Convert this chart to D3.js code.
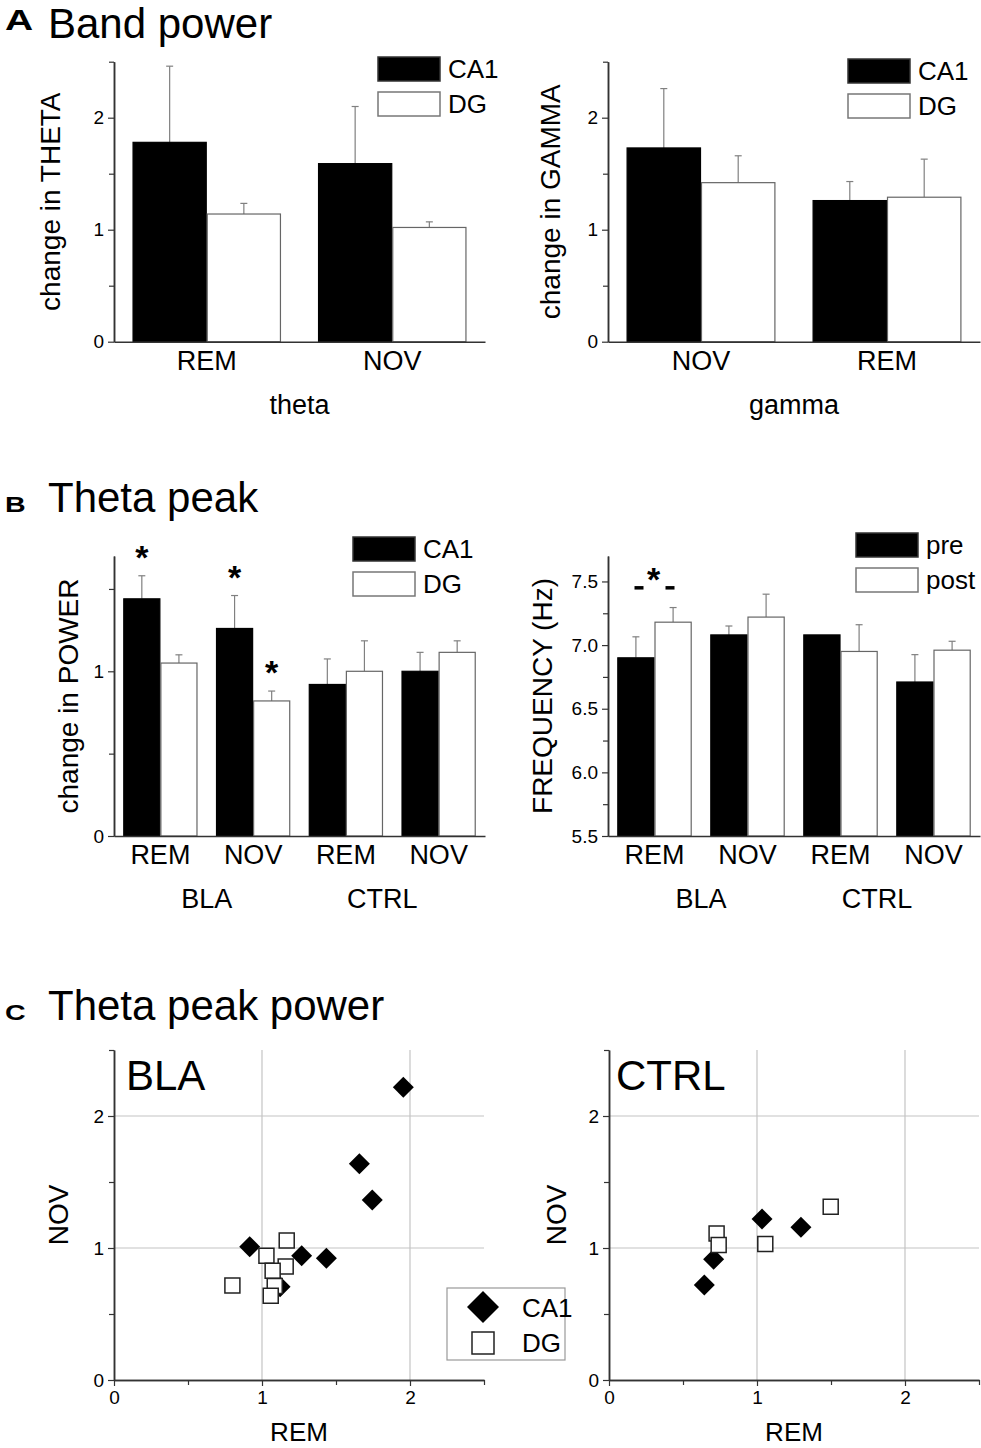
<!DOCTYPE html>
<html>
<head>
<meta charset="utf-8">
<script src="https://cdn.jsdelivr.net/npm/d3@7"></script>
<style>
body { margin: 0; background: #fff; }
svg text { font-family: "Liberation Sans", Arial, sans-serif; fill: #000; }
</style>
</head>
<body>
<svg id="fig" width="981" height="1448"></svg>
<script>

// ---- data ----

// A: band power
var thetaCats = ["REM", "NOV"];
var thetaCA1 = [1.78, 1.59];
var thetaCA1Err = [0.68, 0.51];
var thetaDG = [1.14, 1.02];
var thetaDGErr = [0.095, 0.05];

var gammaCats = ["NOV", "REM"];
var gammaCA1 = [1.73, 1.26];
var gammaCA1Err = [0.53, 0.17];
var gammaDG = [1.42, 1.29];
var gammaDGErr = [0.24, 0.34];

// B: theta peak
var peakCats = ["REM", "NOV", "REM", "NOV"];
var peakGroups = ["BLA", "CTRL"];
var powerCA1 = [1.44, 1.26, 0.92, 1.00];
var powerCA1Err = [0.14, 0.20, 0.155, 0.115];
var powerDG = [1.05, 0.82, 1.00, 1.115];
var powerDGErr = [0.05, 0.06, 0.185, 0.07];
var freqPre = [6.90, 7.08, 7.08, 6.71];
var freqPreErr = [0.165, 0.07, 0.0, 0.215];
var freqPost = [7.18, 7.22, 6.95, 6.96];
var freqPostErr = [0.115, 0.18, 0.21, 0.07];

// C: theta peak power, REM (x) vs NOV (y)
var blaCA1Rem = [1.955, 1.658, 1.745, 0.917, 1.268, 1.435, 1.122];
var blaCA1Nov = [2.217, 1.639, 1.364, 1.01, 0.942, 0.922, 0.707];
var blaDGRem = [0.80, 1.167, 1.03, 1.16, 1.072, 1.086, 1.059];
var blaDGNov = [0.715, 1.056, 0.942, 0.859, 0.828, 0.712, 0.639];
var ctrlCA1Rem = [0.644, 0.707, 1.034, 1.297];
var ctrlCA1Nov = [0.72, 0.914, 1.22, 1.157];
var ctrlDGRem = [0.727, 0.741, 1.056, 1.498];
var ctrlDGNov = [1.109, 1.023, 1.03, 1.313];

var AXIS = "#333";
var ERR = "#808080";
var svg = d3.select("#fig");

/**
 * panel heading: small bold letter + title
 */
function heading(letter, title, y, letterY) {
	svg.append("text")
		.attr("transform", "translate(5," + letterY + ") scale(1.3,1)")
		.style("font-size", (letter == "A" ? 30 : 22) + "px")
		.attr("font-weight", "bold")
		.text(letter);
	svg.append("text")
		.attr("x", 48).attr("y", y)
		.style("font-size", "42px")
		.text(title);
}

function yTitle(text, x, y) {
	svg.append("text")
		.attr("transform", "translate(" + x + "," + y + ") rotate(-90)")
		.attr("text-anchor", "middle")
		.style("font-size", "28px")
		.text(text);
}

function styleAxis(sel, size) {
	sel.attr("font-size", null).attr("font-family", null);
	sel.select(".domain").attr("stroke", AXIS).attr("stroke-width", 1.5);
	sel.selectAll(".tick line").attr("stroke", AXIS).attr("stroke-width", 1.2);
	sel.selectAll(".tick text").attr("fill", "#000").style("font-size", (size || 19) + "px");
}

/**
 * grouped bar chart with upper error bars
 */
function barChart(cfg) {

	var g = svg.append("g");

	var x0 = d3.scaleBand()
		.domain(d3.range(cfg.cats.length))
		.range([cfg.left, cfg.right])
		.paddingInner(0.2)
		.paddingOuter(0.1);

	var x1 = d3.scaleBand()
		.domain(d3.range(cfg.series.length))
		.range([0, x0.bandwidth()]);

	var y = d3.scaleLinear()
		.domain(cfg.domain)
		.range([cfg.bottom, cfg.top]);

	var base = y(cfg.domain[0]);

	cfg.series.forEach(function(s, si) {

		var rows = s.values.map(function(v, i) { return { i: i, v: v, e: s.err[i] }; });

		// error bars (upper half only)
		var eb = g.selectAll(null).data(rows.filter(function(d) { return d.e > 0; }))
			.enter().append("g")
			.attr("stroke", ERR)
			.attr("stroke-width", 1.2);
		eb.append("line")
			.attr("x1", function(d) { return x0(d.i) + x1(si) + x1.bandwidth() / 2; })
			.attr("x2", function(d) { return x0(d.i) + x1(si) + x1.bandwidth() / 2; })
			.attr("y1", function(d) { return y(d.v); })
			.attr("y2", function(d) { return y(d.v + d.e); });
		eb.append("line")
			.attr("x1", function(d) { return x0(d.i) + x1(si) + x1.bandwidth() / 2 - 3.5; })
			.attr("x2", function(d) { return x0(d.i) + x1(si) + x1.bandwidth() / 2 + 3.5; })
			.attr("y1", function(d) { return y(d.v + d.e); })
			.attr("y2", function(d) { return y(d.v + d.e); });

		g.selectAll(null).data(rows)
			.enter().append("rect")
			.attr("x", function(d) { return x0(d.i) + x1(si) + 0.5; })
			.attr("width", x1.bandwidth() - 1)
			.attr("y", function(d) { return y(d.v); })
			.attr("height", function(d) { return base - y(d.v); })
			.attr("fill", s.fill)
			.attr("stroke", s.stroke)
			.attr("stroke-width", 1.2);
	});

	// y axis: minor ticks first, then labelled ticks
	var minorAx = g.append("g")
		.attr("transform", "translate(" + cfg.left + ",0)")
		.call(d3.axisLeft(y).tickValues(cfg.minor).tickSize(5).tickSizeOuter(0).tickFormat(""));
	styleAxis(minorAx);

	var yAx = g.append("g")
		.attr("transform", "translate(" + cfg.left + ",0)")
		.call(d3.axisLeft(y).tickValues(cfg.major).tickSize(6).tickSizeOuter(0)
			.tickPadding(4).tickFormat(cfg.fmt));
	styleAxis(yAx, 19);

	// x axis with category names
	var xAx = g.append("g")
		.attr("transform", "translate(0," + base + ")")
		.call(d3.axisBottom(x0).tickSize(0).tickSizeOuter(0).tickPadding(9)
			.tickFormat(function(i) { return cfg.cats[i]; }));
	styleAxis(xAx, 27);

	// group labels under the categories
	var per = cfg.cats.length / cfg.groups.length;
	cfg.groups.forEach(function(name, k) {
		var first = x0(k * per);
		var last = x0(k * per + per - 1) + x0.bandwidth();
		g.append("text")
			.attr("x", (first + last) / 2 + (k > 0 ? cfg.groupShift || 0 : 0))
			.attr("y", base + 72)
			.attr("text-anchor", "middle")
			.style("font-size", "27px")
			.text(name);
	});

	// legend
	cfg.series.forEach(function(s, si) {
		var ly = cfg.legend[1] + si * 35;
		g.append("rect")
			.attr("x", cfg.legend[0]).attr("y", ly)
			.attr("width", 62).attr("height", 24)
			.attr("fill", s.fill)
			.attr("stroke", s.fill == "#000" ? "#333" : "#777")
			.attr("stroke-width", 1.5);
		g.append("text")
			.attr("x", cfg.legend[0] + 70).attr("y", ly + 21)
			.style("font-size", "26px")
			.text(s.name);
	});

	yTitle(cfg.yTitle, cfg.yTitleX, (cfg.top + cfg.bottom) / 2);

	return { g: g, x0: x0, x1: x1, y: y };
}

/**
 * scatter of REM vs NOV change, diamonds = CA1, squares = DG
 */
function scatter(cfg) {

	var g = svg.append("g");

	var x = d3.scaleLinear().domain([0, 2.5]).range([cfg.left, cfg.right]);
	var y = d3.scaleLinear().domain([0, 2.5]).range([cfg.bottom, cfg.top]);

	// grid
	g.selectAll(null).data([1, 2]).enter().append("line")
		.attr("x1", x(0)).attr("x2", x(2.5))
		.attr("y1", function(d) { return y(d); }).attr("y2", function(d) { return y(d); })
		.attr("stroke", "#c4c4c4").attr("stroke-width", 1.2);
	g.selectAll(null).data([1, 2]).enter().append("line")
		.attr("y1", y(0)).attr("y2", y(2.5))
		.attr("x1", function(d) { return x(d); }).attr("x2", function(d) { return x(d); })
		.attr("stroke", "#c4c4c4").attr("stroke-width", 1.2);

	var minorX = g.append("g").attr("transform", "translate(0," + y(0) + ")")
		.call(d3.axisBottom(x).tickValues([0.5, 1.5, 2.5]).tickSize(5).tickSizeOuter(0).tickFormat(""));
	styleAxis(minorX);
	var xAx = g.append("g").attr("transform", "translate(0," + y(0) + ")")
		.call(d3.axisBottom(x).tickValues([0, 1, 2]).tickSize(6).tickSizeOuter(0)
			.tickPadding(5).tickFormat(d3.format("d")));
	styleAxis(xAx, 19);

	var minorY = g.append("g").attr("transform", "translate(" + x(0) + ",0)")
		.call(d3.axisLeft(y).tickValues([0.5, 1.5, 2.5]).tickSize(5).tickSizeOuter(0).tickFormat(""));
	styleAxis(minorY);
	var yAx = g.append("g").attr("transform", "translate(" + x(0) + ",0)")
		.call(d3.axisLeft(y).tickValues([0, 1, 2]).tickSize(6).tickSizeOuter(0)
			.tickPadding(4).tickFormat(d3.format("d")));
	styleAxis(yAx, 19);

	var diamond = d3.symbol().type(d3.symbolSquare).size(220);
	var square = d3.symbol().type(d3.symbolSquare).size(225);

	g.selectAll(null).data(d3.zip(cfg.ca1Rem, cfg.ca1Nov)).enter().append("path")
		.attr("d", diamond)
		.attr("transform", function(d) { return "translate(" + x(d[0]) + "," + y(d[1]) + ") rotate(45)"; })
		.attr("fill", "#000");

	g.selectAll(null).data(d3.zip(cfg.dgRem, cfg.dgNov)).enter().append("path")
		.attr("d", square)
		.attr("transform", function(d) { return "translate(" + x(d[0]) + "," + y(d[1]) + ")"; })
		.attr("fill", "#fff")
		.attr("stroke", "#222")
		.attr("stroke-width", 1.5);

	g.append("text")
		.attr("x", x(0) + cfg.labelDx).attr("y", y(2.5) + 40)
		.style("font-size", "42px")
		.text(cfg.label);

	g.append("text")
		.attr("x", (cfg.left + cfg.right) / 2).attr("y", 1441)
		.attr("text-anchor", "middle")
		.style("font-size", "26px")
		.text("REM");

	yTitle("NOV", cfg.yTitleX, (cfg.top + cfg.bottom) / 2);

	if (cfg.legend) {
		var lg = g.append("g").attr("transform", "translate(" + cfg.legend[0] + "," + cfg.legend[1] + ")");
		lg.append("rect")
			.attr("width", 118).attr("height", 72)
			.attr("fill", "#fff").attr("stroke", "#999").attr("stroke-width", 1.2);
		lg.append("path")
			.attr("d", d3.symbol().type(d3.symbolSquare).size(512))
			.attr("transform", "translate(36,19) rotate(45)")
			.attr("fill", "#000");
		lg.append("path")
			.attr("d", d3.symbol().type(d3.symbolSquare).size(484))
			.attr("transform", "translate(36,55)")
			.attr("fill", "#fff").attr("stroke", "#222").attr("stroke-width", 1.5);
		lg.append("text").attr("x", 75).attr("y", 29).style("font-size", "26px").text("CA1");
		lg.append("text").attr("x", 75).attr("y", 64).style("font-size", "26px").text("DG");
	}
}

// ---- A ----
heading("A", "Band power", 38, 30);

barChart({
	cats: thetaCats, groups: ["theta"],
	series: [
		{ name: "CA1", values: thetaCA1, err: thetaCA1Err, fill: "#000", stroke: "#000" },
		{ name: "DG", values: thetaDG, err: thetaDGErr, fill: "#fff", stroke: "#666" }
	],
	domain: [0, 2.5], major: [0, 1, 2], minor: [0.5, 1.5, 2.5], fmt: d3.format("d"),
	left: 114, right: 485, top: 61.7, bottom: 341.7,
	legend: [378, 57], yTitle: "change in THETA", yTitleX: 60
});

barChart({
	cats: gammaCats, groups: ["gamma"],
	series: [
		{ name: "CA1", values: gammaCA1, err: gammaCA1Err, fill: "#000", stroke: "#000" },
		{ name: "DG", values: gammaDG, err: gammaDGErr, fill: "#fff", stroke: "#666" }
	],
	domain: [0, 2.5], major: [0, 1, 2], minor: [0.5, 1.5, 2.5], fmt: d3.format("d"),
	left: 608, right: 980, top: 61.7, bottom: 341.7,
	legend: [848, 59], yTitle: "change in GAMMA", yTitleX: 560
});

// ---- B ----
heading("B", "Theta peak", 512, 512);

var power = barChart({
	cats: peakCats, groups: peakGroups, groupShift: -10,
	series: [
		{ name: "CA1", values: powerCA1, err: powerCA1Err, fill: "#000", stroke: "#000" },
		{ name: "DG", values: powerDG, err: powerDGErr, fill: "#fff", stroke: "#666" }
	],
	domain: [0, 1.7], major: [0, 1], minor: [0.5, 1.5], fmt: d3.format("d"),
	left: 114, right: 485, top: 556, bottom: 836,
	legend: [353, 537], yTitle: "change in POWER", yTitleX: 78
});

// significance marks over CA1 REM, CA1 NOV and DG NOV (BLA)
var powerSig = [[0, 0], [1, 0], [1, 1]];
var powerSeries = [[powerCA1, powerCA1Err], [powerDG, powerDGErr]];
power.g.selectAll(null).data(powerSig).enter().append("text")
	.attr("x", function(d) { return power.x0(d[0]) + power.x1(d[1]) + power.x1.bandwidth() / 2; })
	.attr("y", function(d) {
		var s = powerSeries[d[1]];
		return power.y(s[0][d[0]] + s[1][d[0]]) - 7;
	})
	.attr("text-anchor", "middle")
	.style("font-size", "34px")
	.attr("font-weight", "bold")
	.text("*");

var freq = barChart({
	cats: peakCats, groups: peakGroups, groupShift: -10,
	series: [
		{ name: "pre", values: freqPre, err: freqPreErr, fill: "#000", stroke: "#000" },
		{ name: "post", values: freqPost, err: freqPostErr, fill: "#fff", stroke: "#666" }
	],
	domain: [5.5, 7.7], major: [5.5, 6.0, 6.5, 7.0, 7.5], minor: [5.75, 6.25, 6.75, 7.25],
	fmt: d3.format(".1f"),
	left: 608, right: 980, top: 556, bottom: 836,
	legend: [856, 533], yTitle: "FREQUENCY (Hz)", yTitleX: 552
});

// pre vs post in BLA REM: -*-
var sigX = freq.x0(0) + freq.x0.bandwidth() / 2;
var sigY = freq.y(7.45);
freq.g.append("text")
	.attr("x", sigX - 1).attr("y", sigY + 3)
	.attr("text-anchor", "middle")
	.style("font-size", "34px")
	.attr("font-weight", "bold")
	.text("*");
[-1, 1].forEach(function(side) {
	freq.g.append("line")
		.attr("x1", sigX + side * 11).attr("x2", sigX + side * 20)
		.attr("y1", sigY).attr("y2", sigY)
		.attr("stroke", "#000").attr("stroke-width", 3.5);
});

// ---- C ----
heading("C", "Theta peak power", 1020, 1020);

scatter({
	left: 114, right: 484, top: 1050, bottom: 1380,
	ca1Rem: blaCA1Rem, ca1Nov: blaCA1Nov, dgRem: blaDGRem, dgNov: blaDGNov,
	label: "BLA", labelDx: 12, yTitleX: 68, legend: [447, 1288]
});

scatter({
	left: 609, right: 979, top: 1050, bottom: 1380,
	ca1Rem: ctrlCA1Rem, ca1Nov: ctrlCA1Nov, dgRem: ctrlDGRem, dgNov: ctrlDGNov,
	label: "CTRL", labelDx: 7, yTitleX: 566, legend: null
});

</script>
</body>
</html>
